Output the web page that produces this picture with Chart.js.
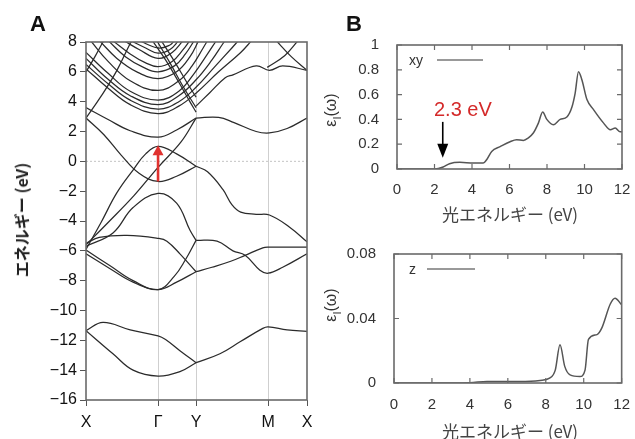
<!DOCTYPE html>
<html><head><meta charset="utf-8">
<script src="https://cdn.jsdelivr.net/npm/chart.js@4"></script>
<style>
html,body{margin:0;padding:0;background:#fff;width:635px;height:439px;overflow:hidden;position:relative;font-family:"Liberation Sans",Arial,sans-serif;}
canvas{position:absolute;}
.t{position:absolute;white-space:nowrap;line-height:1;}
.rot{transform:translate(-50%,-50%) rotate(-90deg);}
.jp{font-family:"Noto Sans CJK JP","Liberation Sans",sans-serif;}
</style></head><body>
<canvas id="ca" width="320" height="439" style="left:0;top:0;width:320px;height:439px"></canvas>
<canvas id="cb" width="315" height="230" style="left:320px;top:0;width:315px;height:230px"></canvas>
<canvas id="cc" width="315" height="209" style="left:320px;top:230px;width:315px;height:209px"></canvas>

<div class="t" style="left:30px;top:13px;font-size:22px;font-weight:bold;color:#111">A</div>
<div class="t" style="left:346px;top:13px;font-size:22px;font-weight:bold;color:#111">B</div>
<div class="t rot jp" style="left:21px;top:220px;font-size:16px;font-weight:bold;color:#222">エネルギー (eV)</div>
<div class="t rot" style="left:333px;top:110px;font-size:16px;color:#333">ε<sub style="font-size:11px">I</sub>(ω)</div>
<div class="t rot" style="left:333px;top:305px;font-size:16px;color:#333">ε<sub style="font-size:11px">I</sub>(ω)</div>
<div class="t jp" style="left:510px;top:213px;transform:translate(-50%,-50%);font-size:17px;color:#444">光エネルギー (eV)</div>
<div class="t jp" style="left:510px;top:430px;transform:translate(-50%,-50%);font-size:17px;color:#444">光エネルギー (eV)</div>
<div class="t" style="left:409px;top:53px;font-size:14px;color:#333">xy</div>
<div class="t" style="left:409px;top:262px;font-size:14px;color:#333">z</div>
<div class="t" style="left:434px;top:99px;font-size:20px;color:#d42a2a">2.3 eV</div>

<script>
// ---------- Panel A: band structure ----------
const kPos = [0, 0.326, 0.498, 0.824, 1];
const kLabels = ['X', 'Γ', 'Y', 'M', 'X'];
const eMin = -16, eMax = 8, eStep = 2;

// low-lying bands
const lowBands = [
  [[0,-11.35],[0.077,-10.8],[0.2,-11.3],[0.326,-11.7],[0.36,-11.95],[0.425,-12.7],[0.498,-13.5]],
  [[0,-11.35],[0.122,-12.9],[0.213,-14.0],[0.326,-14.4],[0.425,-14.1],[0.498,-13.5]],
  [[0.498,-13.5],[0.606,-12.9],[0.697,-12.1],[0.8,-11.2],[0.824,-11.1],[0.91,-11.3],[1,-11.4]]
];
// middle bands (-9 .. -2)
const midBands = [
  [[0,-6.2],[0.109,-7.2],[0.213,-8.1],[0.326,-8.6],[0.41,-8.1],[0.498,-7.4]],
  [[0,-5.95],[0.109,-7.0],[0.213,-8.0],[0.326,-8.6],[0.4,-7.7],[0.45,-6.6],[0.498,-5.3]],
  [[0,-5.5],[0.06,-5.1],[0.186,-4.96],[0.326,-5.16],[0.366,-5.35],[0.425,-6.2],[0.498,-7.4]],
  [[0,-5.7],[0.122,-4.8],[0.213,-3.1],[0.326,-2.15],[0.41,-2.8],[0.47,-4.6],[0.498,-5.3]],
  [[0.498,-7.4],[0.57,-7.1],[0.655,-6.7],[0.72,-6.3],[0.8,-5.8],[0.824,-5.75],[0.91,-5.75],[1,-5.75]],
  [[0.498,-5.3],[0.593,-5.35],[0.665,-6.0],[0.72,-6.3],[0.787,-7.3],[0.824,-7.5],[0.89,-7.1],[1,-6.2]]
];
// bands near the gap
const gapBands = [
  [[0,-5.9],[0.068,-4.1],[0.14,-2.1],[0.217,-0.5],[0.27,0.5],[0.326,1.0],[0.41,0.5],[0.498,-0.33]],
  [[0,2.9],[0.08,1.8],[0.16,0.4],[0.24,-0.8],[0.326,-1.35],[0.41,-1.0],[0.498,-0.33]],
  [[0.498,-0.33],[0.55,-0.7],[0.62,-1.9],[0.66,-2.9],[0.70,-3.4],[0.77,-3.55],[0.83,-3.6],[0.92,-4.4],[1,-5.4]],
  [[0,-5.6],[0.1,-4.1],[0.217,-2.3],[0.326,-0.4],[0.43,1.3],[0.498,2.9]],
  [[0,3.6],[0.1,2.8],[0.2,2.05],[0.326,1.62],[0.41,2.1],[0.498,2.9]],
  [[0.498,2.9],[0.6,2.95],[0.67,2.6],[0.77,2.0],[0.83,1.9],[0.91,2.2],[1,2.9]]
];
// upper conduction bands
const upperBands = [
  [[0,6.2],[0.1,4.9],[0.2,3.8],[0.326,3.2],[0.42,3.7],[0.5,4.6],[0.6,6.0],[0.7,7.3],[0.75,8.1]],
  [[0,6.5],[0.1,5.2],[0.2,4.1],[0.326,3.5],[0.42,4.0],[0.5,5.0],[0.58,6.3],[0.66,7.6],[0.69,8.1]],
  [[0,6.9],[0.1,5.5],[0.2,4.4],[0.326,3.8],[0.42,4.4],[0.5,5.5],[0.57,6.8],[0.62,7.9],[0.63,8.1]],
  [[0,7.3],[0.1,5.9],[0.2,4.7],[0.326,4.1],[0.42,4.7],[0.49,5.9],[0.55,7.2],[0.59,8.1]],
  [[0.02,8.1],[0.1,6.7],[0.2,5.4],[0.326,4.75],[0.42,5.4],[0.48,6.4],[0.53,7.6],[0.55,8.1]],
  [[0.06,8.1],[0.14,6.9],[0.23,6.0],[0.326,5.55],[0.41,6.0],[0.47,7.0],[0.51,8.1]],
  [[0.1,8.1],[0.18,7.0],[0.26,6.3],[0.326,6.0],[0.4,6.4],[0.45,7.2],[0.49,8.1]],
  [[0.12,8.1],[0.2,7.2],[0.27,6.6],[0.326,6.35],[0.39,6.7],[0.44,7.5],[0.47,8.1]],
  [[0.17,8.1],[0.24,7.5],[0.326,6.9],[0.39,7.3],[0.44,8.1]],
  [[0.2,8.1],[0.27,7.6],[0.326,7.25],[0.38,7.5],[0.42,8.1]],
  [[0.24,8.1],[0.326,7.6],[0.38,7.8],[0.4,8.1]],
  [[0.3,8.1],[0.36,6.8],[0.42,5.3],[0.47,4.0],[0.498,3.3]],
  [[0.32,8.1],[0.38,6.6],[0.44,5.0],[0.498,3.6]],
  [[0.34,8.1],[0.4,6.7],[0.46,5.2],[0.498,4.3]],
  [[0,2.9],[0.07,4.4],[0.14,6.1],[0.2,7.9],[0.21,8.1]],
  [[0,6.0],[0.04,7.0],[0.08,8.1]],
  [[0.498,3.7],[0.56,4.6],[0.63,5.6],[0.665,5.8],[0.77,6.4],[0.83,6.1],[0.89,6.4],[1,6.1]],
  [[0.86,8.1],[0.93,7.0],[1,6.1]],
  [[0.82,6.3],[0.9,7.1],[0.96,8.1]]
];
// red transition arrow
const arrowK = 0.326, arrowFrom = -1.35, arrowTo = 1.07;

// ---------- Panel B: optical spectra ----------
const xyEnergy = [0,1,2.0,2.46,2.8,3.35,4.07,4.6,4.78,5.05,5.5,6.03,6.38,6.74,7.0,7.27,7.54,7.77,7.99,8.34,8.7,9.06,9.33,9.5,9.68,9.86,10.13,10.49,11.02,11.38,11.64,11.9,12];
const xyEps    = [0,0,0,0.016,0.043,0.054,0.048,0.048,0.075,0.142,0.18,0.22,0.236,0.23,0.25,0.29,0.37,0.46,0.40,0.357,0.40,0.42,0.50,0.61,0.785,0.72,0.56,0.477,0.37,0.316,0.33,0.30,0.30];
const zEnergy = [0,2,4.0,4.9,6.6,7.7,8.2,8.5,8.75,9.0,9.28,9.8,10.07,10.25,10.7,10.95,11.4,11.65,12];
const zEps    = [0,0,0.0002,0.001,0.001,0.0016,0.003,0.008,0.0237,0.0103,0.005,0.004,0.008,0.027,0.030,0.034,0.049,0.0526,0.0485];
const eTicksB = [0,2,4,6,8,10,12];
const xyArrow = {x:2.44, from:0.38, to:0.09};

const lineCol = '#2b2b2b';
const frameCol = '#6a6a6a';

const framePlugin = {
  id:'frame',
  afterDatasetsDraw(chart, args, opts){
    const a = chart.chartArea, c = chart.ctx;
    c.save();
    c.strokeStyle = frameCol; c.lineWidth = 1.6;
    c.strokeRect(a.left, a.top, a.right-a.left, a.bottom-a.top);
    if (opts.inTicks){
      c.lineWidth = 1.2;
      const xs = chart.scales.x, ys = chart.scales.y;
      xs.ticks.forEach(t=>{
        const p = xs.getPixelForValue(t.value);
        c.beginPath(); c.moveTo(p,a.bottom); c.lineTo(p,a.bottom-5);
        c.moveTo(p,a.top); c.lineTo(p,a.top+5); c.stroke();
      });
      ys.ticks.forEach(t=>{
        const p = ys.getPixelForValue(t.value);
        c.beginPath(); c.moveTo(a.left,p); c.lineTo(a.left+5,p);
        c.moveTo(a.right,p); c.lineTo(a.right-5,p); c.stroke();
      });
    }
    c.restore();
  }
};

// Panel A
const bandSegs = [...lowBands, ...midBands, ...gapBands, ...upperBands];
new Chart(document.getElementById('ca'), {
  type:'line',
  data:{datasets: bandSegs.map(s=>({
    data: s.map(([x,y])=>({x,y})),
    borderColor: lineCol, borderWidth: 1.25, pointRadius: 0, tension: 0.4, fill:false, clip: 0
  }))},
  options:{
    responsive:false, animation:false, events:[],
    layout:{padding:{top:42,right:13,left:0,bottom:0}},
    plugins:{legend:{display:false}, tooltip:{enabled:false}, frame:{inTicks:false}},
    scales:{
      x:{type:'linear', min:0, max:1,
        afterBuildTicks: s=>{ s.ticks = kPos.map(v=>({value:v})); },
        afterFit: s=>{ s.height = 39; },
        ticks:{autoSkip:false, maxRotation:0, padding:7, color:'#111',
          font:{family:'"Liberation Sans", Arial', size:16},
          callback:(v,i)=>kLabels[i]},
        grid:{drawOnChartArea:true, tickLength:6, tickColor:'#555', lineWidth:1,
          color: ctx => (ctx.index>0 && ctx.index<kPos.length-1) ? '#cfcfcf' : 'rgba(0,0,0,0)'},
        border:{display:false}
      },
      y:{type:'linear', min:eMin, max:eMax,
        afterFit: s=>{ s.width = 86; },
        ticks:{stepSize:eStep, padding:3, color:'#111',
          font:{family:'"Liberation Sans", Arial', size:16},
          callback: v => String(v).replace('-', '\u2212')},
        grid:{drawOnChartArea:false, tickLength:6, tickColor:'#555'},
        border:{display:false}
      }
    }
  },
  plugins:[framePlugin, {
    id:'zeroAndArrow',
    beforeDatasetsDraw(chart){
      const c = chart.ctx, a = chart.chartArea, y0 = chart.scales.y.getPixelForValue(0);
      c.save(); c.strokeStyle = '#c4c4c4'; c.lineWidth = 1; c.setLineDash([2,2]);
      c.beginPath(); c.moveTo(a.left,y0); c.lineTo(a.right,y0); c.stroke(); c.restore();
    },
    afterDatasetsDraw(chart){
      const c = chart.ctx, xs = chart.scales.x, ys = chart.scales.y;
      const x = xs.getPixelForValue(arrowK), y1 = ys.getPixelForValue(arrowFrom), y2 = ys.getPixelForValue(arrowTo);
      c.save(); c.strokeStyle = '#e0322f'; c.fillStyle = '#e0322f'; c.lineWidth = 2.6;
      c.beginPath(); c.moveTo(x,y1); c.lineTo(x,y2+8); c.stroke();
      c.beginPath(); c.moveTo(x,y2); c.lineTo(x-5.5,y2+10); c.lineTo(x+5.5,y2+10); c.closePath(); c.fill();
      c.restore();
    }
  }]
});

function spectrum(id, ex, ey, ymax, ystep, yW, xH, padTop, legY, legX1, legX2, xPad, extra){
  return new Chart(document.getElementById(id), {
    type:'line',
    data:{datasets:[{data: ex.map((x,i)=>({x, y:ey[i]})), borderColor:'#555', borderWidth:1.5,
      pointRadius:0, cubicInterpolationMode:'monotone', fill:false, clip:0}]},
    options:{
      responsive:false, animation:false, events:[],
      layout:{padding:{top:padTop,right:13,left:0,bottom:0}},
      plugins:{legend:{display:false}, tooltip:{enabled:false}, frame:{inTicks:true}},
      scales:{
        x:{type:'linear', min:0, max:12,
          afterBuildTicks: s=>{ s.ticks = eTicksB.map(v=>({value:v})); },
          afterFit: s=>{ s.height = xH; },
          ticks:{padding:xPad, color:'#333', maxRotation:0, font:{family:'"Liberation Sans", Arial', size:15}},
          grid:{display:false}, border:{display:false}},
        y:{type:'linear', min:0, max:ymax,
          afterFit: s=>{ s.width = yW; },
          ticks:{stepSize:ystep, padding:10, color:'#333', font:{family:'"Liberation Sans", Arial', size:15},
            callback: v => String(Math.round(v*1000)/1000)},
          grid:{display:false}, border:{display:false}}
      }
    },
    plugins:[framePlugin, {
      id:'legendLine',
      afterDatasetsDraw(chart){
        const c = chart.ctx;
        c.save(); c.strokeStyle = '#777'; c.lineWidth = 1.5;
        c.beginPath(); c.moveTo(legX1, legY); c.lineTo(legX2, legY); c.stroke();
        c.restore();
        if (extra) extra(chart);
      }
    }]
  });
}

spectrum('cb', xyEnergy, xyEps, 1, 0.2, 77, 61, 45, 60, 117, 163, 4, chart=>{
  const c = chart.ctx, xs = chart.scales.x, ys = chart.scales.y;
  const x = xs.getPixelForValue(xyArrow.x), y1 = ys.getPixelForValue(xyArrow.from), y2 = ys.getPixelForValue(xyArrow.to);
  c.save(); c.strokeStyle = '#000'; c.fillStyle = '#000'; c.lineWidth = 1.6;
  c.beginPath(); c.moveTo(x,y1); c.lineTo(x,y2-10); c.stroke();
  c.beginPath(); c.moveTo(x,y2); c.lineTo(x-5.5,y2-14); c.lineTo(x+5.5,y2-14); c.closePath(); c.fill();
  c.restore();
});
spectrum('cc', zEnergy, zEps, 0.08, 0.04, 74, 56, 24, 39, 107, 155, 5, null);
</script>
</body></html>
